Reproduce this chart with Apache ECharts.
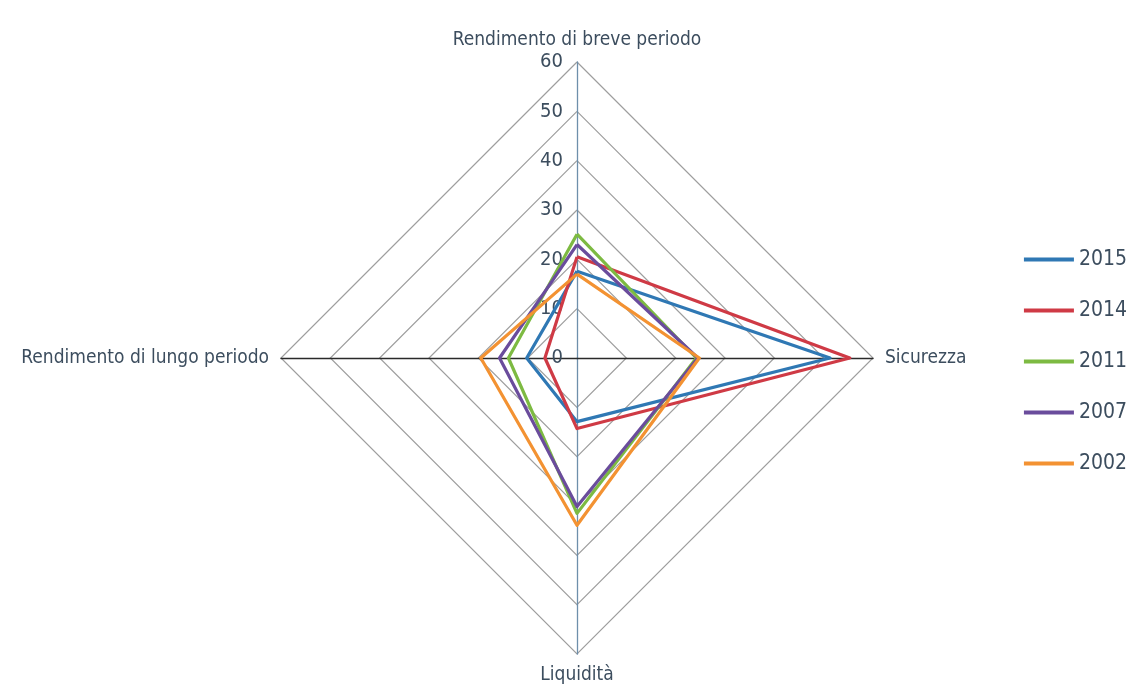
<!DOCTYPE html>
<html>
<head>
<meta charset="utf-8">
<script src="https://cdn.jsdelivr.net/npm/echarts@6/dist/echarts.min.js"></script>
<style>
  html, body { margin: 0; padding: 0; background: #fff; }
  #chart { width: 1135px; height: 693px; }
</style>
</head>
<body>
<div id="chart"></div>
<script>
// indicators, listed counterclockwise starting from the top
const indicators = ['Rendimento di breve periodo', 'Rendimento di lungo periodo', 'Liquidità', 'Sicurezza'];
const years = ['2015', '2014', '2011', '2007', '2002'];
const v2015 = [17.6, 10.2, 12.9, 51.3];
const v2014 = [20.5, 6.5, 14.3, 55.3];
const v2011 = [25.1, 13.9, 31.5, 24.2];
const v2007 = [23.0, 15.7, 30.1, 24.5];
const v2002 = [17.0, 19.5, 33.9, 24.8];
const colors = ['#2f78b4', '#cf3a45', '#7dba42', '#6a4c9c', '#f39232'];

const font = "'Liberation Sans Narrow', 'DejaVu Sans Condensed', 'Liberation Sans', sans-serif";
const txt = '#3c4d5e';

const chart = echarts.init(document.getElementById('chart'));
const allVals = [v2015, v2014, v2011, v2007, v2002];

chart.setOption({
  animation: false,
  color: colors,
  legend: {
    orient: 'vertical',
    right: 3,
    top: 244,
    itemWidth: 50,
    itemHeight: 4,
    itemGap: 30,
    icon: 'rect',
    data: years,
    textStyle: { fontFamily: font, fontSize: 21, color: txt, padding: [0, 0, 0, 0] }
  },
  radar: {
    center: [577, 358],
    radius: 296,
    startAngle: 90,
    shape: 'polygon',
    splitNumber: 6,
    indicator: indicators.map((n, i) => ({
      name: n,
      min: 0,
      max: 60,
      axisLabel: { show: i === 0 },
      axisLine: { lineStyle: { color: (i === 0 || i === 2) ? '#6e8fab' : '#2a2a2a', width: 1.3 } }
    })),
    axisName: { fontFamily: font, fontSize: 19, color: txt },
    nameGap: 12,
    axisLabel: { show: false, fontFamily: font, fontSize: 20, color: txt, margin: 14 },
    splitLine: { lineStyle: { color: '#9e9e9e', width: 1.2 } },
    splitArea: { show: false },
    axisLine: { lineStyle: { color: '#2a2a2a' } }
  },
  series: [{
    type: 'radar',
    symbol: 'none',
    lineStyle: { width: 3.2 },
    data: years.map((y, i) => ({ name: y, value: allVals[i] }))
  }]
});
</script>
</body>
</html>
